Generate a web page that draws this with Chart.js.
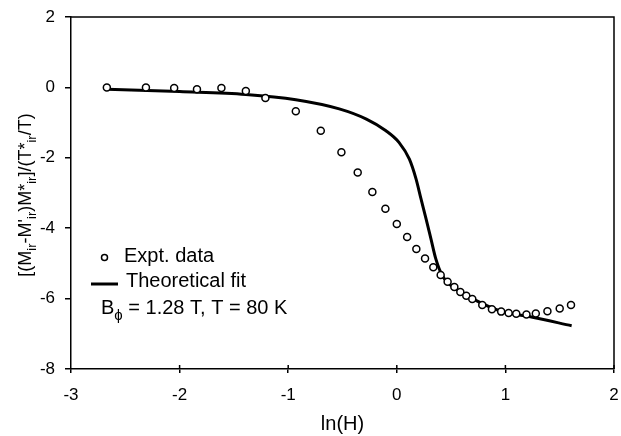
<!DOCTYPE html>
<html>
<head>
<meta charset="utf-8">
<script src="https://cdn.jsdelivr.net/npm/chart.js@4/dist/chart.umd.min.js"></script>
<style>
  html, body { margin: 0; padding: 0; background: #fff; }
  #wrap { width: 621px; height: 436px; }
</style>
</head>
<body>
<div id="wrap"><canvas id="c" width="621" height="436"></canvas></div>
<script>
// values
const exptX = [-2.67, -2.31, -2.05, -1.84, -1.615, -1.39, -1.21, -0.93, -0.70, -0.51, -0.36, -0.225, -0.105, 0.0, 0.095, 0.18, 0.26, 0.336, 0.404, 0.468, 0.53, 0.585, 0.64, 0.695, 0.787, 0.876, 0.961, 1.03, 1.10, 1.194, 1.28, 1.387, 1.50, 1.604];
const exptY = [0, 0, -0.02, -0.05, -0.02, -0.1, -0.3, -0.68, -1.23, -1.84, -2.42, -2.97, -3.45, -3.88, -4.25, -4.59, -4.86, -5.11, -5.33, -5.52, -5.67, -5.81, -5.92, -6.01, -6.18, -6.30, -6.37, -6.41, -6.43, -6.45, -6.42, -6.36, -6.28, -6.18];
const fitX = [-2.67, -2.0, -1.39, -0.93, -0.53, -0.28, -0.1, 0.02, 0.116, 0.177, 0.223, 0.27, 0.315, 0.36, 0.42, 0.545, 0.70, 0.95, 1.25, 1.61];
const fitY = [-0.05, -0.12, -0.2, -0.35, -0.61, -0.9, -1.23, -1.56, -2.04, -2.60, -3.17, -3.74, -4.31, -4.88, -5.35, -5.73, -6.01, -6.35, -6.53, -6.77];
const xTicks = [-3, -2, -1, 0, 1, 2];
const yTicks = [-8, -6, -4, -2, 0, 2];

const FONT = '"Liberation Sans", Arial, sans-serif';
const toPts = (xs, ys) => xs.map((v, i) => ({ x: v, y: ys[i] }));

// draw text made of normal/subscript pieces, left-aligned at (x, y) baseline
function richText(ctx, parts, x, y, size, subSize) {
  let cx = x;
  parts.forEach(p => {
    ctx.font = (p.sub ? subSize : size) + 'px ' + FONT;
    ctx.fillText(p.t, cx, p.sub ? y + size * 0.28 : y);
    cx += ctx.measureText(p.t).width;
  });
  return cx - x;
}
function richWidth(ctx, parts, size, subSize) {
  let w = 0;
  parts.forEach(p => {
    ctx.font = (p.sub ? subSize : size) + 'px ' + FONT;
    w += ctx.measureText(p.t).width;
  });
  return w;
}

const yTitle = [
  { t: '[(M' }, { t: 'ir', sub: true }, { t: '-M\'' }, { t: 'ir', sub: true },
  { t: ')M*' }, { t: 'ir', sub: true }, { t: ']/(T*' }, { t: 'ir', sub: true }, { t: '/T)' }
];
const noteText = [
  { t: 'B' }, { t: '\u03D5', sub: true }, { t: ' = 1.28 T, T = 80 K' }
];

const decor = {
  id: 'decor',
  afterDraw(chart) {
    const { ctx, chartArea: a, scales: { x, y } } = chart;
    ctx.save();
    ctx.strokeStyle = '#000';
    ctx.fillStyle = '#000';
    ctx.lineWidth = 1.5;
    // top and right frame
    ctx.beginPath();
    ctx.moveTo(a.left, a.top);
    ctx.lineTo(a.right, a.top);
    ctx.lineTo(a.right, a.bottom);
    ctx.stroke();
    // x ticks also poke up into the plot
    ctx.beginPath();
    xTicks.slice(1).forEach(v => {
      const px = x.getPixelForValue(v);
      ctx.moveTo(px, a.bottom);
      ctx.lineTo(px, a.bottom - 4);
    });
    ctx.stroke();

    // legend inside plot
    ctx.textBaseline = 'alphabetic';
    ctx.textAlign = 'left';
    ctx.lineWidth = 1.5;
    ctx.beginPath();
    ctx.arc(104.5, 257.5, 3, 0, Math.PI * 2);
    ctx.fillStyle = '#fff';
    ctx.fill();
    ctx.stroke();
    ctx.fillStyle = '#000';
    ctx.font = '20px ' + FONT;
    ctx.fillText('Expt. data', 124, 262);
    ctx.lineWidth = 3;
    ctx.beginPath();
    ctx.moveTo(91, 284);
    ctx.lineTo(118, 284);
    ctx.stroke();
    ctx.fillText('Theoretical fit', 126, 287);
    richText(ctx, noteText, 101, 314, 20, 15);

    // rotated y title
    const w = richWidth(ctx, yTitle, 18, 13);
    ctx.translate(31, 195);
    ctx.rotate(-Math.PI / 2);
    richText(ctx, yTitle, -w / 2, 0, 18, 13);
    ctx.restore();
  }
};

new Chart(document.getElementById('c'), {
  type: 'scatter',
  data: {
    datasets: [
      {
        label: 'Expt. data',
        data: toPts(exptX, exptY),
        pointRadius: 3.5,
        pointBorderWidth: 1.5,
        pointBorderColor: '#000',
        pointBackgroundColor: '#fff',
        showLine: false
      },
      {
        label: 'Theoretical fit',
        data: toPts(fitX, fitY),
        showLine: true,
        borderColor: '#000',
        borderWidth: 3,
        pointRadius: 0,
        cubicInterpolationMode: 'monotone'
      }
    ]
  },
  options: {
    responsive: false,
    animation: false,
    layout: { padding: { top: 17, right: 7, left: 0, bottom: 0 } },
    plugins: { legend: { display: false }, tooltip: { enabled: false } },
    scales: {
      x: {
        type: 'linear',
        min: -3, max: 2,
        afterFit: s => { s.height = 67; s.paddingLeft = 0; s.paddingRight = 0; },
        afterBuildTicks: s => { s.ticks = xTicks.map(v => ({ value: v })); },
        grid: { display: true, drawOnChartArea: false, drawTicks: true, tickLength: 4, color: '#000', lineWidth: 1.5 },
        border: { display: true, color: '#000', width: 1.5 },
        ticks: { color: '#000', font: { family: FONT, size: 17 }, padding: 12, maxRotation: 0 },
        title: { display: true, text: 'ln(H)', color: '#000', font: { family: FONT, size: 20 }, padding: { top: 4, bottom: 0 } }
      },
      y: {
        type: 'linear',
        min: -8, max: 2,
        afterFit: s => { s.width = 71; s.paddingTop = 0; s.paddingBottom = 0; },
        afterBuildTicks: s => { s.ticks = yTicks.map(v => ({ value: v })); },
        grid: { display: true, drawOnChartArea: false, drawTicks: true, tickLength: 6, color: '#000', lineWidth: 1.5 },
        border: { display: true, color: '#000', width: 1.5 },
        ticks: { color: '#000', font: { family: FONT, size: 17 }, padding: 10 }
      }
    }
  },
  plugins: [decor]
});
</script>
</body>
</html>
